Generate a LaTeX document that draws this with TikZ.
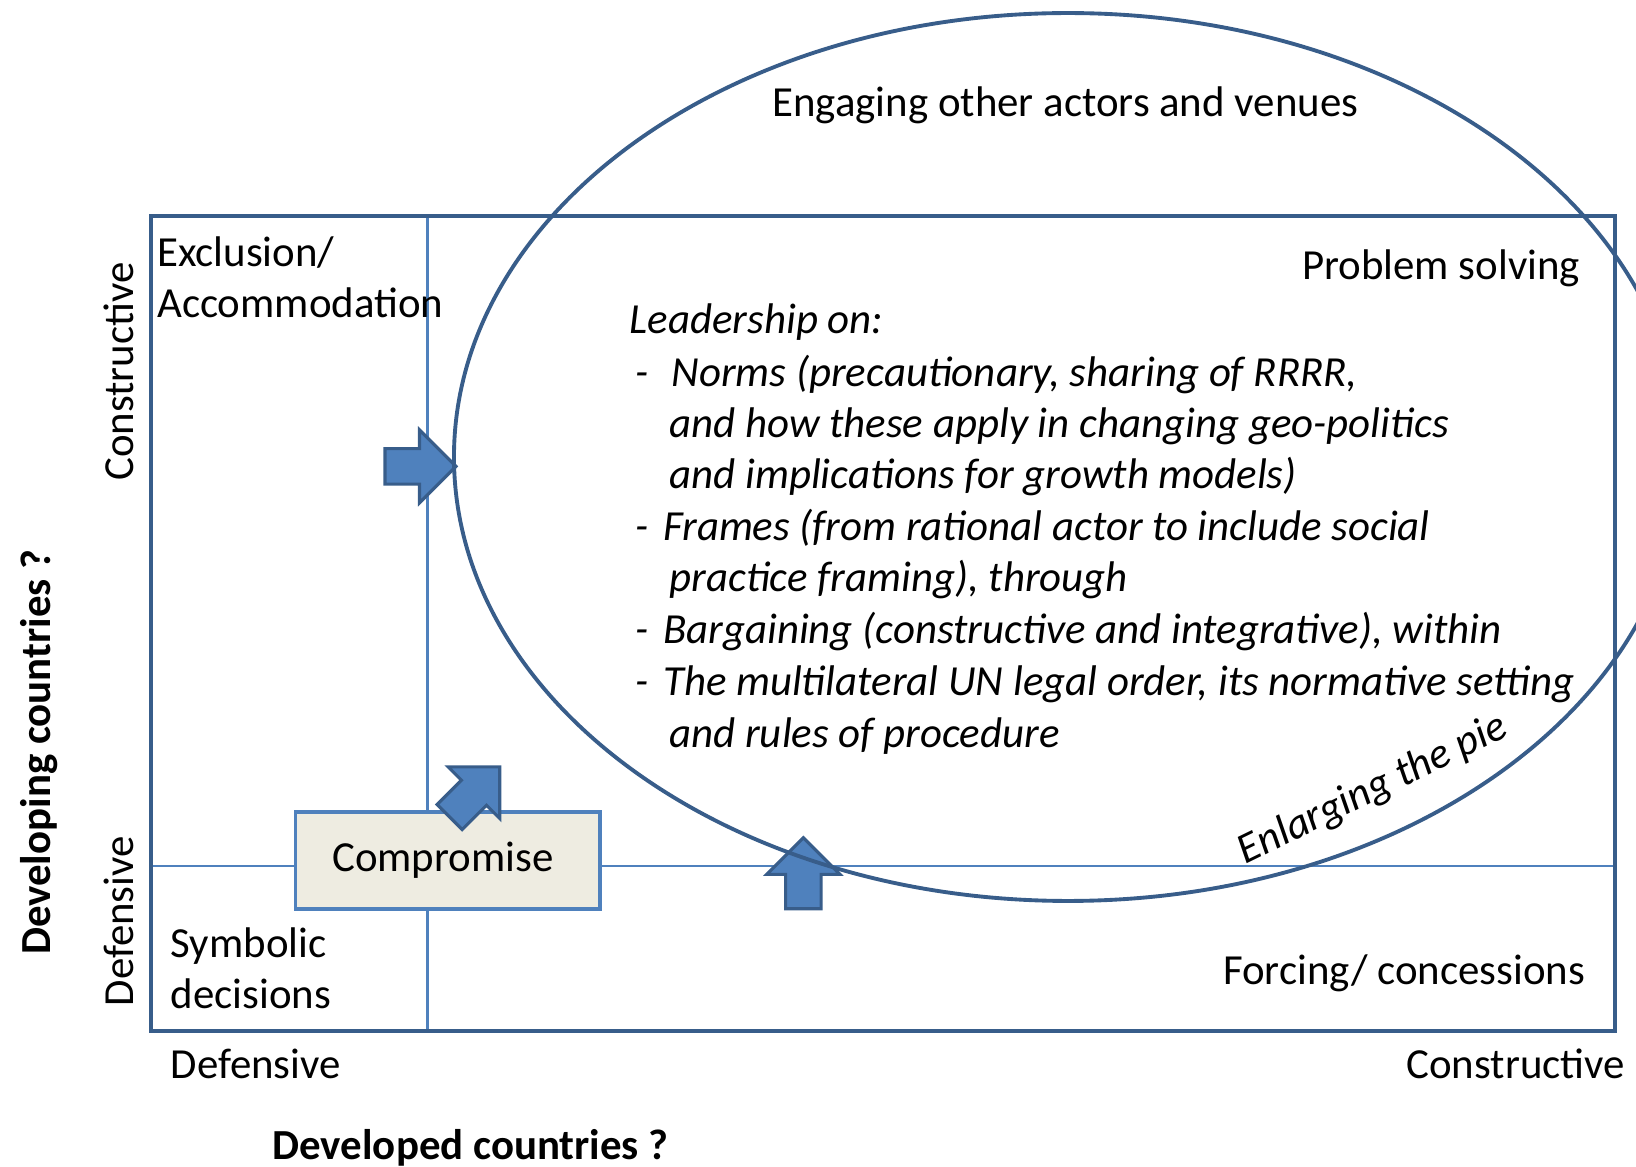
\documentclass[tikz,border=0pt]{standalone}
\usepackage{fontspec}
\setmainfont{Carlito}
\definecolor{frameblue}{HTML}{385D8A}
\definecolor{lineblue}{HTML}{4F81BD}
\definecolor{boxfill}{HTML}{EEECE1}
\newcommand{\dashitem}[2]{\makebox[#1][l]{-}#2}
\tikzset{
	pics/blockarrow/.style={code={
		\draw[frameblue, fill=lineblue, line width=0.9pt, line join=miter]
			(0,0) -- (-35,35) -- (-35,17) -- (-68,17) -- (-68,-17) -- (-35,-17) -- (-35,-35) -- cycle;
	}}
}

\begin{document}
\begin{tikzpicture}
	[
		x=0.010434cm, y=-0.010434cm,
		font=\fontsize{12.2}{14.5}\selectfont,
		% Text set down by its baseline.
		txt/.style={inner sep=0pt, anchor=base west},
		itx/.style={txt, font=\fontsize{12.2}{14.5}\selectfont\itshape},
		% Rotated axis labels.
		vtxt/.style={inner sep=0pt, anchor=base, rotate=90},
		grid/.style={lineblue, line width=0.8pt}
	]
		\clip (0,0) rectangle (1568,1118);

		% Frame and quadrant lines
		\coordinate (tl) at (145,207);
		\coordinate (br) at (1548,988);
		\coordinate (vtop) at (410,207);
		\coordinate (vbot) at (410,988);
		\coordinate (hleft) at (145,830);
		\coordinate (hright) at (1548,830);
		\draw[grid] (vtop) -- (vbot);
		\draw[grid] (hleft) -- (hright);
		\draw[frameblue, line width=1.2pt] (tl) rectangle (br);

		\node[draw=lineblue, fill=boxfill, line width=1pt, minimum width=86.7pt,
			minimum height=27.6pt, inner sep=0pt] (comp) at (429,824.5) {\hspace*{-2.7pt}Compromise};

		% Block arrows
		\pic at (437,447) {blockarrow};
		\pic[rotate=45] at (479,735) {blockarrow};
		\pic[rotate=90] at (770,803) {blockarrow};

		\draw[frameblue, line width=1.1pt] (1023.6,438) ellipse [x radius=588.5, y radius=425.5];

		\node[txt, anchor=base] (venues) at (1021,112) {Engaging other actors and venues};
		\node[txt, anchor=base east] (solve) at (1515,268) {Problem solving};
		\node[txt] (excl) at (150,255) {Exclusion/};
		\node[txt] (accom) at (150,304) {Accommodation};
		\node[txt] (symb) at (163,918) {Symbolic};
		\node[txt] (decis) at (163,967) {decisions};
		\node[txt, anchor=base east] (forcing) at (1520,944) {Forcing/ concessions};

		\node[itx] (lead) at (603,320) {Leadership on:};
		\node[itx] (norms) at (608,370) {\dashitem{10.4pt}{Norms (precautionary, sharing of RRRR,}};
		\node[itx] (norms2) at (641,419) {and how these apply in changing geo-politics};
		\node[itx] (norms3) at (641,468) {and implications for growth models)};
		\node[itx] (frames) at (608,518) {\dashitem{8pt}{Frames (from rational actor to include social}};
		\node[itx] (frames2) at (641,567) {practice framing), through};
		\node[itx] (barg) at (608,617) {\dashitem{8pt}{Bargaining (constructive and integrative), within}};
		\node[itx] (multi) at (608,667) {\dashitem{8pt}{The multilateral UN legal order, its normative setting}};
		\node[itx] (multi2) at (641,716) {and rules of procedure};
		\node[itx, anchor=center, rotate=26] (pie) at (1316,757) {Enlarging the pie};

		% Axis labels
		\node[txt] (xdef) at (163,1034) {Defensive};
		\node[txt, anchor=base east] (xcon) at (1558,1034) {Constructive};
		\node[txt, anchor=base, font=\fontsize{12.2}{14.5}\selectfont\bfseries] (xtitle) at (451,1111) {Developed countries ?};
		\node[vtxt] (ycon) at (128,356) {Constructive};
		\node[vtxt] (ydef) at (128,883) {Defensive};
		\node[vtxt, font=\fontsize{12.2}{14.5}\selectfont\bfseries] (ytitle) at (48,721) {Developing countries ?};
	\end{tikzpicture}
\end{document}
